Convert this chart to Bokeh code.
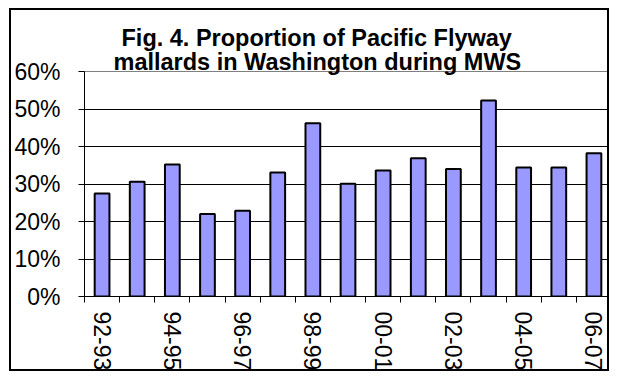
import math
from bokeh.plotting import figure
from bokeh.models import FixedTicker, NumeralTickFormatter, Title, Range1d, ColumnDataSource
from bokeh.embed import file_html
from bokeh.resources import INLINE

seasons = ["92-93", "93-94", "94-95", "95-96", "96-97", "97-98", "98-99", "99-00",
           "00-01", "01-02", "02-03", "03-04", "04-05", "05-06", "06-07"]
proportion = [0.275, 0.306, 0.352, 0.220, 0.229, 0.331, 0.462, 0.301,
              0.336, 0.369, 0.340, 0.523, 0.344, 0.344, 0.382]
y_ticks = [0.0, 0.1, 0.2, 0.3, 0.4, 0.5, 0.6]
title_lines = ["Fig. 4. Proportion of Pacific Flyway",
               "mallards in Washington during MWS"]

FONT = "Liberation Sans"

centers = [i + 0.5 for i in range(len(seasons))]
src = ColumnDataSource(dict(x=centers, top=proportion, season=seasons))

p = figure(width=600, height=363, title=None,
           x_range=Range1d(0, len(seasons)), y_range=Range1d(y_ticks[0], y_ticks[-1]),
           output_backend="svg", toolbar_location=None,
           min_border_left=68, min_border_right=0, min_border_top=61, min_border_bottom=76)
p.styles = {"border": "2px solid black", "margin-left": "9px", "margin-top": "8px"}
p.background_fill_color = "white"
p.border_fill_color = "white"
p.outline_line_color = "#808080"
p.outline_line_width = 1

p.vbar(x="x", top="top", width=0.42, bottom=0, source=src,
       fill_color="#9999FF", line_color="black", line_width=2)

# titles (second line added first so it sits closest to the plot)
t2 = Title(text=title_lines[1], align="left", text_font=FONT, text_font_size="23.5px",
           text_font_style="bold", text_color="black", standoff=-6, offset=29)
t1 = Title(text=title_lines[0], align="left", text_font=FONT, text_font_size="23.5px",
           text_font_style="bold", text_color="black", standoff=-2, offset=37)
p.add_layout(t2, "above")
p.add_layout(t1, "above")

# x axis
lab_idx = list(range(0, len(seasons), 2))
p.xaxis.ticker = FixedTicker(ticks=[centers[i] for i in lab_idx],
                             minor_ticks=list(range(len(seasons) + 1)))
p.xaxis.major_label_overrides = {centers[i]: seasons[i] for i in lab_idx}
p.xaxis.major_tick_line_color = None
p.xaxis.minor_tick_line_color = "black"
p.xaxis.minor_tick_out = 6
p.xaxis.minor_tick_in = 0
p.xaxis.axis_line_color = "black"
p.xaxis.major_label_orientation = -math.pi / 2
p.xaxis.major_label_standoff = 9
p.xaxis.major_label_text_font = FONT
p.xaxis.major_label_text_font_size = "23px"
p.xaxis.major_label_text_color = "black"

# y axis
p.yaxis.ticker = FixedTicker(ticks=y_ticks)
p.yaxis.formatter = NumeralTickFormatter(format="0%")
p.yaxis.major_tick_line_color = "black"
p.yaxis.major_tick_out = 6
p.yaxis.major_tick_in = 0
p.yaxis.minor_tick_line_color = None
p.yaxis.axis_line_color = "black"
p.yaxis.major_label_standoff = 18
p.yaxis.major_label_text_font = FONT
p.yaxis.major_label_text_font_size = "23px"
p.yaxis.major_label_text_color = "black"

p.xgrid.visible = False
p.ygrid.ticker = FixedTicker(ticks=y_ticks)
p.ygrid.grid_line_color = "black"
p.ygrid.grid_line_width = 1

open("out.html", "w").write(file_html(p, INLINE))
